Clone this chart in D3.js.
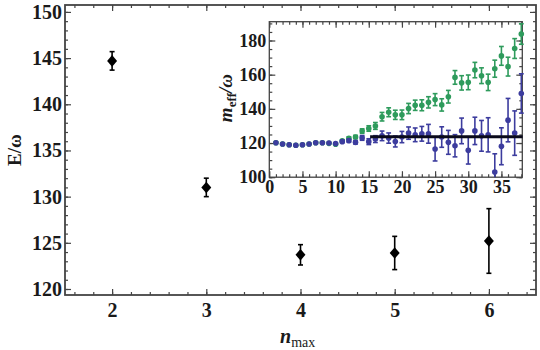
<!DOCTYPE html>
<html>
<head>
<meta charset="utf-8">
<script src="https://cdn.jsdelivr.net/npm/d3@7/dist/d3.min.js"></script>
<style>
  body { margin: 0; background: #fff; }
  svg { display: block; font-family: "Liberation Serif", "DejaVu Serif", serif; font-weight: bold; }
  .tick text { fill: #1a1a1a; }
</style>
</head>
<body>
<svg id="chart" width="540" height="350"></svg>
<script>
// main plot: ground state energy vs n_max
const nmax = [2, 3, 4, 5, 6];
const energy = [144.7, 131.0, 123.7, 123.9, 125.2];
const energyErr = [1.0, 1.0, 1.1, 1.8, 3.5];
const mainXTicks = [2, 3, 4, 5, 6];
const mainYTicks = [120, 125, 130, 135, 140, 145, 150];

// inset: effective mass vs time slice
const tau = [1, 2, 3, 4, 5, 6, 7, 8, 9, 10, 11, 12, 13, 14, 15, 16, 17, 18, 19,
  20, 21, 22, 23, 24, 25, 26, 27, 28, 29, 30, 31, 32, 33, 34, 35, 36, 37, 38];
const meffGreen = [120.2, 119.4, 119.0, 118.7, 119.0, 119.4, 120.2, 120.2, 119.8, 119.3,
  121.3, 122.8, 123.5, 127.0, 128.5, 130.0, 135.4, 138.0, 136.5, 136.5,
  140.2, 142.1, 142.1, 143.8, 145.4, 142.3, 147.1, 158.4, 155.2, 155.5,
  162.7, 159.4, 155.5, 163.5, 171.0, 164.7, 175.3, 183.8];
const errGreen = [0.3, 0.3, 0.3, 0.3, 0.3, 0.3, 0.3, 0.3, 0.3, 0.3,
  0.6, 0.8, 1.0, 1.3, 1.6, 2.0, 2.5, 2.6, 2.7, 2.8,
  3.0, 3.0, 3.2, 3.3, 3.5, 3.6, 3.7, 4.0, 4.2, 4.3,
  4.5, 4.6, 4.8, 5.0, 5.5, 5.5, 5.8, 6.0];
const meffBlue = [120.2, 119.4, 119.0, 118.7, 119.0, 119.4, 120.2, 120.2, 120.0, 119.7,
  120.8, 121.4, 120.4, 123.0, 120.8, 122.3, 124.2, 122.9, 120.9, 123.5,
  125.8, 124.8, 125.4, 125.4, 116.5, 123.5, 120.4, 118.4, 127.1, 115.7,
  127.1, 124.2, 124.8, 103.0, 118.1, 133.4, 125.8, 149.0];
const errBlue = [0.3, 0.3, 0.3, 0.3, 0.3, 0.3, 0.3, 0.3, 0.3, 0.3,
  0.6, 0.8, 1.0, 1.4, 1.7, 2.0, 2.8, 3.0, 3.2, 3.3,
  3.6, 4.0, 4.3, 5.5, 7.0, 6.0, 7.0, 6.5, 7.5, 8.0,
  8.0, 9.0, 10.0, 10.7, 10.8, 12.7, 13.0, 11.5];
const plateauRange = [15.2, 38.2];
const plateauValue = 123.6;
const insetXTicks = [0, 5, 10, 15, 20, 25, 30, 35];
const insetYTicks = [100, 120, 140, 160, 180];

const svg = d3.select("#chart");
const ink = "#1a1a1a";
const frameColor = "#444";
const serif = "'Liberation Serif', 'DejaVu Serif', serif";

// ---------- main plot ----------
const x = d3.scaleLinear().domain([1.5, 6.5]).range([65, 536]);
const y = d3.scaleLinear().domain([119.35, 150.75]).range([295, 5]);

function styleAxis(g) {
  g.attr("font-family", serif);
  g.select(".domain").remove();
  g.selectAll(".tick line").attr("stroke", frameColor).attr("stroke-width", 1.2);
  g.selectAll(".tick text").attr("font-size", 19).attr("fill", ink);
}

function drawFrameAxes(root, xs, ys, opt) {
  const [x0, x1] = xs.range();
  const [y0, y1] = ys.range(); // y0 bottom, y1 top
  const noLabel = () => "";
  // minor ticks
  root.append("g").attr("transform", `translate(0,${y0})`)
    .call(d3.axisBottom(xs).tickValues(opt.xMinor).tickFormat(noLabel).tickSize(-3)).call(styleAxis);
  root.append("g").attr("transform", `translate(0,${y1})`)
    .call(d3.axisTop(xs).tickValues(opt.xMinor).tickFormat(noLabel).tickSize(-3)).call(styleAxis);
  root.append("g").attr("transform", `translate(${x0},0)`)
    .call(d3.axisLeft(ys).tickValues(opt.yMinor).tickFormat(noLabel).tickSize(-3)).call(styleAxis);
  root.append("g").attr("transform", `translate(${x1},0)`)
    .call(d3.axisRight(ys).tickValues(opt.yMinor).tickFormat(noLabel).tickSize(-3)).call(styleAxis);
  // major ticks
  root.append("g").attr("transform", `translate(0,${y0})`)
    .call(d3.axisBottom(xs).tickValues(opt.xTicks).tickFormat(d3.format("d")).tickSize(-6).tickPadding(opt.xPad)).call(styleAxis)
    .selectAll(".tick text").attr("font-size", opt.fontSize);
  root.append("g").attr("transform", `translate(0,${y1})`)
    .call(d3.axisTop(xs).tickValues(opt.xTicks).tickFormat(noLabel).tickSize(-6)).call(styleAxis);
  root.append("g").attr("transform", `translate(${x0},0)`)
    .call(d3.axisLeft(ys).tickValues(opt.yTicks).tickFormat(d3.format("d")).tickSize(-6).tickPadding(opt.yPad)).call(styleAxis)
    .selectAll(".tick text").attr("font-size", opt.fontSize);
  root.append("g").attr("transform", `translate(${x1},0)`)
    .call(d3.axisRight(ys).tickValues(opt.yTicks).tickFormat(noLabel).tickSize(-6)).call(styleAxis);
  // frame
  root.append("rect")
    .attr("x", x0).attr("y", y1)
    .attr("width", x1 - x0).attr("height", y0 - y1)
    .attr("fill", "none").attr("stroke", frameColor).attr("stroke-width", opt.frameWidth);
}

const mainXMinor = [];
for (let v = 1.6; v < 6.5; v += 0.2) mainXMinor.push(+v.toFixed(1));
const mainYMinor = [];
for (let v = 120; v <= 150; v += 1) mainYMinor.push(v);

const main = svg.append("g");
drawFrameAxes(main, x, y, {
  xTicks: mainXTicks, yTicks: mainYTicks, xMinor: mainXMinor, yMinor: mainYMinor,
  xPad: 8, yPad: 3, fontSize: 20, frameWidth: 1.8
});

// error bars + diamonds
const mainData = nmax.map((n, i) => ({ n, e: energy[i], err: energyErr[i] }));
const eb = main.append("g").attr("stroke", "#000").attr("stroke-width", 1.6);
mainData.forEach(d => {
  eb.append("line").attr("x1", x(d.n)).attr("x2", x(d.n))
    .attr("y1", y(d.e - d.err)).attr("y2", y(d.e + d.err));
  [d.e - d.err, d.e + d.err].forEach(v => {
    eb.append("line").attr("x1", x(d.n) - 2.5).attr("x2", x(d.n) + 2.5)
      .attr("y1", y(v)).attr("y2", y(v));
  });
});
main.append("g").selectAll("path").data(mainData).join("path")
  .attr("d", d3.symbol(d3.symbolDiamond2, 70))
  .attr("transform", d => `translate(${x(d.n)},${y(d.e)}) scale(0.95,1.1)`)
  .attr("fill", "#000");

// main axis titles
svg.append("text")
  .attr("transform", "translate(21,150) rotate(-90)")
  .attr("text-anchor", "middle").attr("font-size", 19).attr("fill", ink)
  .text("E/ω");

const xt = svg.append("text").attr("x", 280).attr("y", 343).attr("fill", ink);
xt.append("tspan").attr("font-size", 20).attr("font-style", "italic").text("n");
xt.append("tspan").attr("font-size", 14).attr("font-weight", "normal").attr("dy", 4).text("max");

// ---------- inset ----------
const ix = d3.scaleLinear().domain([0, 38.15]).range([269.3, 522.3]);
const iy = d3.scaleLinear().domain([100, 191]).range([177.2, 21.7]);

const inset = svg.append("g");
inset.append("rect").attr("x", 222).attr("y", 14).attr("width", 306).attr("height", 190).attr("fill", "#fff");

const insetXMinor = [];
for (let v = 1; v <= 38; v += 1) insetXMinor.push(v);
const insetYMinor = [];
for (let v = 100; v <= 190; v += 5) insetYMinor.push(v);

drawFrameAxes(inset, ix, iy, {
  xTicks: insetXTicks, yTicks: insetYTicks, xMinor: insetXMinor, yMinor: insetYMinor,
  xPad: 3, yPad: 3, fontSize: 18, frameWidth: 1.3
});

function drawSeries(g, values, errs, color) {
  const pts = tau.map((t, i) => ({ t, v: values[i], e: errs[i] }));
  const clip = v => Math.max(iy.domain()[0], Math.min(iy.domain()[1], v));
  const bars = g.append("g").attr("stroke", color).attr("stroke-width", 1.6);
  pts.forEach(p => {
    if (p.e < 0.5) return;
    const lo = p.v - p.e, hi = p.v + p.e;
    bars.append("line").attr("x1", ix(p.t)).attr("x2", ix(p.t))
      .attr("y1", iy(clip(lo))).attr("y2", iy(clip(hi)));
    [lo, hi].forEach(v => {
      if (v < iy.domain()[0] || v > iy.domain()[1]) return;
      bars.append("line").attr("x1", ix(p.t) - 2.4).attr("x2", ix(p.t) + 2.4)
        .attr("y1", iy(v)).attr("y2", iy(v));
    });
  });
  g.append("g").selectAll("circle").data(pts).join("circle")
    .attr("cx", d => ix(d.t)).attr("cy", d => iy(d.v)).attr("r", 2.8)
    .attr("fill", color);
}

drawSeries(inset.append("g"), meffGreen, errGreen, "#2e9b5c");
drawSeries(inset.append("g"), meffBlue, errBlue, "#3c3c9e");

inset.append("line")
  .attr("x1", ix(plateauRange[0])).attr("x2", ix(plateauRange[1]))
  .attr("y1", iy(plateauValue)).attr("y2", iy(plateauValue))
  .attr("stroke", "#0a0a1a").attr("stroke-width", 3);

// inset y title
const it = svg.append("text")
  .attr("transform", "translate(232,98) rotate(-90)")
  .attr("text-anchor", "middle").attr("fill", ink);
it.append("tspan").attr("font-size", 19).attr("font-style", "italic").text("m");
it.append("tspan").attr("font-size", 13).attr("dy", 4).text("eff");
it.append("tspan").attr("font-size", 19).attr("font-style", "italic").attr("dy", -4).text("/ω");
</script>
</body>
</html>
